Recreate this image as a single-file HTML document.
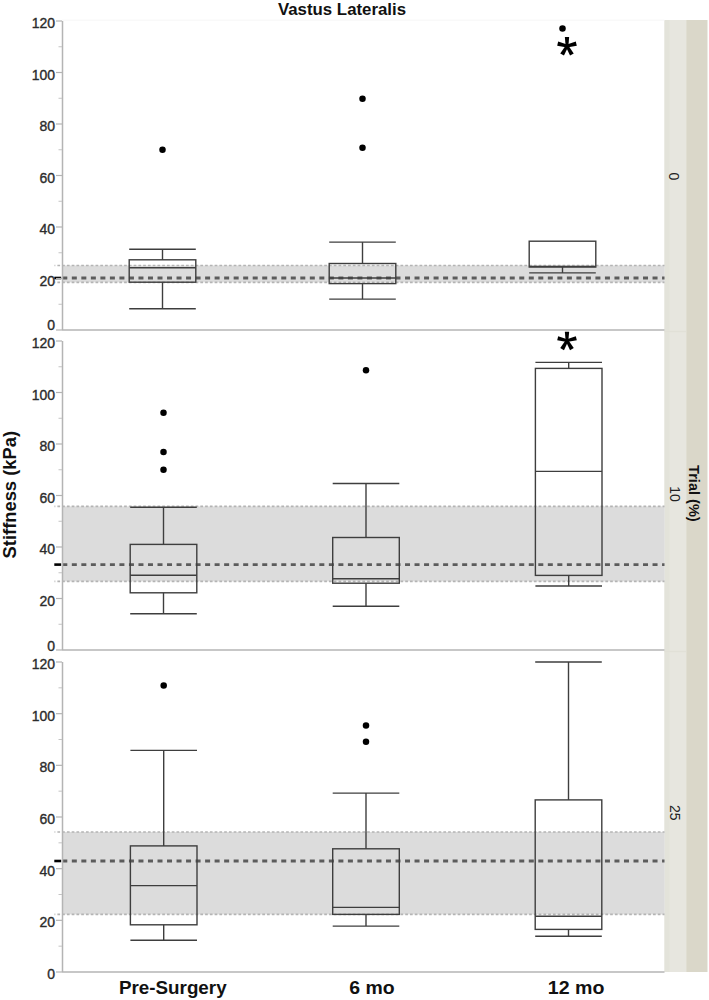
<!DOCTYPE html>
<html><head><meta charset="utf-8"><style>
html,body{margin:0;padding:0;background:#fff;}
body{width:709px;height:1000px;overflow:hidden;position:relative;}
svg{position:absolute;left:0;top:0;}
text{font-family:'Liberation Sans', sans-serif;}
</style></head><body>
<svg width="709" height="1000" viewBox="0 0 709 1000">
<rect x="0" y="0" width="709" height="1000" fill="#fff"/>

<rect x="664.5" y="20" width="21.7" height="952" fill="#e7e6df"/><rect x="664.5" y="20" width="5" height="952" fill="#e3e3da"/>
<rect x="686.2" y="20" width="21.3" height="952" fill="#dad7c9"/>
<line x1="62" y1="20.2" x2="664.5" y2="20.2" stroke="#f6f6f6" stroke-width="1"/>
<rect x="62" y="265.5" width="602.5" height="16.899999999999977" fill="#dcdcdc"/>
<line x1="54.5" y1="265.5" x2="664.5" y2="265.5" stroke="#b4b4b4" stroke-width="1.6" stroke-dasharray="2.7 2.065" stroke-dashoffset="1.88"/>
<line x1="54.5" y1="282.4" x2="664.5" y2="282.4" stroke="#b4b4b4" stroke-width="1.6" stroke-dasharray="2.7 2.065" stroke-dashoffset="1.88"/>
<line x1="62.3" y1="278.0" x2="664.5" y2="278.0" stroke="#5c5c5c" stroke-width="2.8" stroke-dasharray="5 4.52"/>
<line x1="54.3" y1="278.0" x2="61.2" y2="278.0" stroke="#000" stroke-width="2.6"/>
<line x1="62.5" y1="21" x2="62.5" y2="330" stroke="#b4b4b4" stroke-width="1.5"/>
<line x1="62" y1="330" x2="664.5" y2="330" stroke="#b4b4b4" stroke-width="1.5"/>
<line x1="56" y1="330.00" x2="62" y2="330.00" stroke="#b4b4b4" stroke-width="1.2"/>
<text x="0" y="0" font-size="14" text-anchor="end" fill="#2c2c2c" stroke="#2c2c2c" stroke-width="0.35" transform="translate(55.0 330.10) scale(1 1.09)">0</text>
<line x1="58.5" y1="304.25" x2="62" y2="304.25" stroke="#c4c4c4" stroke-width="1"/>
<line x1="56" y1="278.50" x2="62" y2="278.50" stroke="#b4b4b4" stroke-width="1.2"/>
<text x="0" y="0" font-size="14" text-anchor="end" fill="#2c2c2c" stroke="#2c2c2c" stroke-width="0.35" transform="translate(55.0 285.50) scale(1 1.09)">20</text>
<line x1="58.5" y1="252.75" x2="62" y2="252.75" stroke="#c4c4c4" stroke-width="1"/>
<line x1="56" y1="227.00" x2="62" y2="227.00" stroke="#b4b4b4" stroke-width="1.2"/>
<text x="0" y="0" font-size="14" text-anchor="end" fill="#2c2c2c" stroke="#2c2c2c" stroke-width="0.35" transform="translate(55.0 234.00) scale(1 1.09)">40</text>
<line x1="58.5" y1="201.25" x2="62" y2="201.25" stroke="#c4c4c4" stroke-width="1"/>
<line x1="56" y1="175.50" x2="62" y2="175.50" stroke="#b4b4b4" stroke-width="1.2"/>
<text x="0" y="0" font-size="14" text-anchor="end" fill="#2c2c2c" stroke="#2c2c2c" stroke-width="0.35" transform="translate(55.0 182.50) scale(1 1.09)">60</text>
<line x1="58.5" y1="149.75" x2="62" y2="149.75" stroke="#c4c4c4" stroke-width="1"/>
<line x1="56" y1="124.00" x2="62" y2="124.00" stroke="#b4b4b4" stroke-width="1.2"/>
<text x="0" y="0" font-size="14" text-anchor="end" fill="#2c2c2c" stroke="#2c2c2c" stroke-width="0.35" transform="translate(55.0 131.00) scale(1 1.09)">80</text>
<line x1="58.5" y1="98.25" x2="62" y2="98.25" stroke="#c4c4c4" stroke-width="1"/>
<line x1="56" y1="72.50" x2="62" y2="72.50" stroke="#b4b4b4" stroke-width="1.2"/>
<text x="0" y="0" font-size="14" text-anchor="end" fill="#2c2c2c" stroke="#2c2c2c" stroke-width="0.35" transform="translate(55.0 79.50) scale(1 1.09)">100</text>
<line x1="58.5" y1="46.75" x2="62" y2="46.75" stroke="#c4c4c4" stroke-width="1"/>
<line x1="56" y1="21.00" x2="62" y2="21.00" stroke="#b4b4b4" stroke-width="1.2"/>
<text x="0" y="0" font-size="14" text-anchor="end" fill="#2c2c2c" stroke="#2c2c2c" stroke-width="0.35" transform="translate(55.0 28.00) scale(1 1.09)">120</text>
<g stroke="#3e3e3e" stroke-width="1.4" fill="none"><rect x="129.20" y="259.8" width="66.60" height="22.40"/><line x1="129.20" y1="267.8" x2="195.80" y2="267.8"/><line x1="162.5" y1="249.3" x2="162.5" y2="259.8"/><line x1="129.20" y1="249.3" x2="195.80" y2="249.3"/><line x1="162.5" y1="282.2" x2="162.5" y2="308.7"/><line x1="129.20" y1="308.7" x2="195.80" y2="308.7"/></g>
<circle cx="162.5" cy="149.7" r="3.25" fill="#000"/>
<g stroke="#3e3e3e" stroke-width="1.4" fill="none"><rect x="329.20" y="263.5" width="66.60" height="20.10"/><line x1="329.20" y1="278.0" x2="395.80" y2="278.0"/><line x1="362.5" y1="242.1" x2="362.5" y2="263.5"/><line x1="329.20" y1="242.1" x2="395.80" y2="242.1"/><line x1="362.5" y1="283.6" x2="362.5" y2="299.1"/><line x1="329.20" y1="299.1" x2="395.80" y2="299.1"/></g>
<circle cx="362.5" cy="98.7" r="3.25" fill="#000"/>
<circle cx="362.5" cy="147.7" r="3.25" fill="#000"/>
<g stroke="#3e3e3e" stroke-width="1.4" fill="none"><rect x="529.20" y="241.2" width="66.60" height="25.80"/><line x1="529.20" y1="266.5" x2="595.80" y2="266.5"/><line x1="562.5" y1="267.0" x2="562.5" y2="272.9"/><line x1="529.20" y1="272.9" x2="595.80" y2="272.9"/></g>
<circle cx="562.5" cy="28.4" r="3.25" fill="#000"/>
<g fill="#000"><circle cx="567" cy="46" r="1.9"/><polygon points="568.35,46.50 569.15,37.10 564.85,37.10 565.65,46.50"/><polygon points="566.84,47.43 576.83,45.76 575.79,41.59 566.19,44.81"/><polygon points="567.81,44.81 558.21,41.59 557.17,45.76 567.16,47.43"/><polygon points="565.58,46.24 570.04,55.56 573.76,53.41 567.92,44.89"/><polygon points="566.08,44.89 560.24,53.41 563.96,55.56 568.42,46.24"/></g>
<text x="0" y="0" font-size="14" text-anchor="middle" fill="#222" transform="translate(668.6 176.5) rotate(90)">0</text>
<line x1="664.5" y1="331.5" x2="686.2" y2="331.5" stroke="#e1e0d7" stroke-width="1.5"/>
<rect x="62" y="506.4" width="602.5" height="75.0" fill="#dcdcdc"/>
<line x1="54.5" y1="506.4" x2="664.5" y2="506.4" stroke="#b4b4b4" stroke-width="1.6" stroke-dasharray="2.7 2.065" stroke-dashoffset="1.88"/>
<line x1="54.5" y1="581.4" x2="664.5" y2="581.4" stroke="#b4b4b4" stroke-width="1.6" stroke-dasharray="2.7 2.065" stroke-dashoffset="1.88"/>
<line x1="62.3" y1="564.6" x2="664.5" y2="564.6" stroke="#5c5c5c" stroke-width="2.8" stroke-dasharray="5 4.52"/>
<line x1="54.3" y1="564.6" x2="61.2" y2="564.6" stroke="#000" stroke-width="2.6"/>
<line x1="62.5" y1="341" x2="62.5" y2="650" stroke="#b4b4b4" stroke-width="1.5"/>
<line x1="62" y1="650" x2="664.5" y2="650" stroke="#b4b4b4" stroke-width="1.5"/>
<line x1="56" y1="650.00" x2="62" y2="650.00" stroke="#b4b4b4" stroke-width="1.2"/>
<text x="0" y="0" font-size="14" text-anchor="end" fill="#2c2c2c" stroke="#2c2c2c" stroke-width="0.35" transform="translate(55.0 651.40) scale(1 1.09)">0</text>
<line x1="58.5" y1="624.25" x2="62" y2="624.25" stroke="#c4c4c4" stroke-width="1"/>
<line x1="56" y1="598.50" x2="62" y2="598.50" stroke="#b4b4b4" stroke-width="1.2"/>
<text x="0" y="0" font-size="14" text-anchor="end" fill="#2c2c2c" stroke="#2c2c2c" stroke-width="0.35" transform="translate(55.0 605.50) scale(1 1.09)">20</text>
<line x1="58.5" y1="572.75" x2="62" y2="572.75" stroke="#c4c4c4" stroke-width="1"/>
<line x1="56" y1="547.00" x2="62" y2="547.00" stroke="#b4b4b4" stroke-width="1.2"/>
<text x="0" y="0" font-size="14" text-anchor="end" fill="#2c2c2c" stroke="#2c2c2c" stroke-width="0.35" transform="translate(55.0 554.00) scale(1 1.09)">40</text>
<line x1="58.5" y1="521.25" x2="62" y2="521.25" stroke="#c4c4c4" stroke-width="1"/>
<line x1="56" y1="495.50" x2="62" y2="495.50" stroke="#b4b4b4" stroke-width="1.2"/>
<text x="0" y="0" font-size="14" text-anchor="end" fill="#2c2c2c" stroke="#2c2c2c" stroke-width="0.35" transform="translate(55.0 502.50) scale(1 1.09)">60</text>
<line x1="58.5" y1="469.75" x2="62" y2="469.75" stroke="#c4c4c4" stroke-width="1"/>
<line x1="56" y1="444.00" x2="62" y2="444.00" stroke="#b4b4b4" stroke-width="1.2"/>
<text x="0" y="0" font-size="14" text-anchor="end" fill="#2c2c2c" stroke="#2c2c2c" stroke-width="0.35" transform="translate(55.0 451.00) scale(1 1.09)">80</text>
<line x1="58.5" y1="418.25" x2="62" y2="418.25" stroke="#c4c4c4" stroke-width="1"/>
<line x1="56" y1="392.50" x2="62" y2="392.50" stroke="#b4b4b4" stroke-width="1.2"/>
<text x="0" y="0" font-size="14" text-anchor="end" fill="#2c2c2c" stroke="#2c2c2c" stroke-width="0.35" transform="translate(55.0 399.50) scale(1 1.09)">100</text>
<line x1="58.5" y1="366.75" x2="62" y2="366.75" stroke="#c4c4c4" stroke-width="1"/>
<line x1="56" y1="341.00" x2="62" y2="341.00" stroke="#b4b4b4" stroke-width="1.2"/>
<text x="0" y="0" font-size="14" text-anchor="end" fill="#2c2c2c" stroke="#2c2c2c" stroke-width="0.35" transform="translate(55.0 348.00) scale(1 1.09)">120</text>
<g stroke="#3e3e3e" stroke-width="1.4" fill="none"><rect x="130.20" y="544.4" width="66.60" height="48.40"/><line x1="130.20" y1="575.3" x2="196.80" y2="575.3"/><line x1="163.5" y1="507.3" x2="163.5" y2="544.4"/><line x1="130.20" y1="507.3" x2="196.80" y2="507.3"/><line x1="163.5" y1="592.8" x2="163.5" y2="613.8"/><line x1="130.20" y1="613.8" x2="196.80" y2="613.8"/></g>
<circle cx="163.5" cy="412.8" r="3.25" fill="#000"/>
<circle cx="163.5" cy="452.0" r="3.25" fill="#000"/>
<circle cx="163.5" cy="469.7" r="3.25" fill="#000"/>
<g stroke="#3e3e3e" stroke-width="1.4" fill="none"><rect x="332.70" y="537.5" width="66.60" height="45.70"/><line x1="332.70" y1="578.7" x2="399.30" y2="578.7"/><line x1="366.0" y1="483.5" x2="366.0" y2="537.5"/><line x1="332.70" y1="483.5" x2="399.30" y2="483.5"/><line x1="366.0" y1="583.2" x2="366.0" y2="606.2"/><line x1="332.70" y1="606.2" x2="399.30" y2="606.2"/></g>
<circle cx="366.0" cy="370.2" r="3.25" fill="#000"/>
<g stroke="#3e3e3e" stroke-width="1.4" fill="none"><rect x="535.40" y="368.4" width="66.60" height="207.00"/><line x1="535.40" y1="471.4" x2="602.00" y2="471.4"/><line x1="568.7" y1="362.4" x2="568.7" y2="368.4"/><line x1="535.40" y1="362.4" x2="602.00" y2="362.4"/><line x1="568.7" y1="575.4" x2="568.7" y2="586.0"/><line x1="535.40" y1="586.0" x2="602.00" y2="586.0"/></g>
<g fill="#000"><circle cx="567" cy="340.6" r="1.9"/><polygon points="568.35,341.10 569.15,331.70 564.85,331.70 565.65,341.10"/><polygon points="566.84,342.03 576.83,340.36 575.79,336.19 566.19,339.41"/><polygon points="567.81,339.41 558.21,336.19 557.17,340.36 567.16,342.03"/><polygon points="565.58,340.84 570.04,350.16 573.76,348.01 567.92,339.49"/><polygon points="566.08,339.49 560.24,348.01 563.96,350.16 568.42,340.84"/></g>
<text x="0" y="0" font-size="14" text-anchor="middle" fill="#222" transform="translate(669.6 494) rotate(90)">10</text>
<line x1="664.5" y1="651.5" x2="686.2" y2="651.5" stroke="#e1e0d7" stroke-width="1.5"/>
<rect x="62" y="832.0" width="602.5" height="82.39999999999998" fill="#dcdcdc"/>
<line x1="54.5" y1="832.0" x2="664.5" y2="832.0" stroke="#b4b4b4" stroke-width="1.6" stroke-dasharray="2.7 2.065" stroke-dashoffset="1.88"/>
<line x1="54.5" y1="914.4" x2="664.5" y2="914.4" stroke="#b4b4b4" stroke-width="1.6" stroke-dasharray="2.7 2.065" stroke-dashoffset="1.88"/>
<line x1="62.3" y1="861.0" x2="664.5" y2="861.0" stroke="#5c5c5c" stroke-width="2.8" stroke-dasharray="5 4.52"/>
<line x1="54.3" y1="861.0" x2="61.2" y2="861.0" stroke="#000" stroke-width="2.6"/>
<line x1="62.5" y1="662" x2="62.5" y2="972" stroke="#b4b4b4" stroke-width="1.5"/>
<line x1="62" y1="972" x2="664.5" y2="972" stroke="#b4b4b4" stroke-width="1.5"/>
<line x1="56" y1="972.00" x2="62" y2="972.00" stroke="#b4b4b4" stroke-width="1.2"/>
<text x="0" y="0" font-size="14" text-anchor="end" fill="#2c2c2c" stroke="#2c2c2c" stroke-width="0.35" transform="translate(55.0 979.00) scale(1 1.09)">0</text>
<line x1="58.5" y1="946.17" x2="62" y2="946.17" stroke="#c4c4c4" stroke-width="1"/>
<line x1="56" y1="920.33" x2="62" y2="920.33" stroke="#b4b4b4" stroke-width="1.2"/>
<text x="0" y="0" font-size="14" text-anchor="end" fill="#2c2c2c" stroke="#2c2c2c" stroke-width="0.35" transform="translate(55.0 927.33) scale(1 1.09)">20</text>
<line x1="58.5" y1="894.50" x2="62" y2="894.50" stroke="#c4c4c4" stroke-width="1"/>
<line x1="56" y1="868.67" x2="62" y2="868.67" stroke="#b4b4b4" stroke-width="1.2"/>
<text x="0" y="0" font-size="14" text-anchor="end" fill="#2c2c2c" stroke="#2c2c2c" stroke-width="0.35" transform="translate(55.0 875.67) scale(1 1.09)">40</text>
<line x1="58.5" y1="842.83" x2="62" y2="842.83" stroke="#c4c4c4" stroke-width="1"/>
<line x1="56" y1="817.00" x2="62" y2="817.00" stroke="#b4b4b4" stroke-width="1.2"/>
<text x="0" y="0" font-size="14" text-anchor="end" fill="#2c2c2c" stroke="#2c2c2c" stroke-width="0.35" transform="translate(55.0 824.00) scale(1 1.09)">60</text>
<line x1="58.5" y1="791.17" x2="62" y2="791.17" stroke="#c4c4c4" stroke-width="1"/>
<line x1="56" y1="765.33" x2="62" y2="765.33" stroke="#b4b4b4" stroke-width="1.2"/>
<text x="0" y="0" font-size="14" text-anchor="end" fill="#2c2c2c" stroke="#2c2c2c" stroke-width="0.35" transform="translate(55.0 772.33) scale(1 1.09)">80</text>
<line x1="58.5" y1="739.50" x2="62" y2="739.50" stroke="#c4c4c4" stroke-width="1"/>
<line x1="56" y1="713.67" x2="62" y2="713.67" stroke="#b4b4b4" stroke-width="1.2"/>
<text x="0" y="0" font-size="14" text-anchor="end" fill="#2c2c2c" stroke="#2c2c2c" stroke-width="0.35" transform="translate(55.0 720.67) scale(1 1.09)">100</text>
<line x1="58.5" y1="687.83" x2="62" y2="687.83" stroke="#c4c4c4" stroke-width="1"/>
<line x1="56" y1="662.00" x2="62" y2="662.00" stroke="#b4b4b4" stroke-width="1.2"/>
<text x="0" y="0" font-size="14" text-anchor="end" fill="#2c2c2c" stroke="#2c2c2c" stroke-width="0.35" transform="translate(55.0 669.00) scale(1 1.09)">120</text>
<g stroke="#3e3e3e" stroke-width="1.4" fill="none"><rect x="130.40" y="845.9" width="66.60" height="78.90"/><line x1="130.40" y1="885.6" x2="197.00" y2="885.6"/><line x1="163.7" y1="750.4" x2="163.7" y2="845.9"/><line x1="130.40" y1="750.4" x2="197.00" y2="750.4"/><line x1="163.7" y1="924.8" x2="163.7" y2="940.2"/><line x1="130.40" y1="940.2" x2="197.00" y2="940.2"/></g>
<circle cx="163.7" cy="685.4" r="3.25" fill="#000"/>
<g stroke="#3e3e3e" stroke-width="1.4" fill="none"><rect x="332.70" y="848.8" width="66.60" height="65.60"/><line x1="332.70" y1="907.4" x2="399.30" y2="907.4"/><line x1="366.0" y1="793.1" x2="366.0" y2="848.8"/><line x1="332.70" y1="793.1" x2="399.30" y2="793.1"/><line x1="366.0" y1="914.4" x2="366.0" y2="926.1"/><line x1="332.70" y1="926.1" x2="399.30" y2="926.1"/></g>
<circle cx="366.0" cy="725.6" r="3.25" fill="#000"/>
<circle cx="366.0" cy="741.7" r="3.25" fill="#000"/>
<g stroke="#3e3e3e" stroke-width="1.4" fill="none"><rect x="535.20" y="799.9" width="66.60" height="129.50"/><line x1="535.20" y1="916.2" x2="601.80" y2="916.2"/><line x1="568.5" y1="662.0" x2="568.5" y2="799.9"/><line x1="535.20" y1="662.0" x2="601.80" y2="662.0"/><line x1="568.5" y1="929.4" x2="568.5" y2="936.3"/><line x1="535.20" y1="936.3" x2="601.80" y2="936.3"/></g>
<text x="0" y="0" font-size="14" text-anchor="middle" fill="#222" transform="translate(669.6 812.7) rotate(90)">25</text>
<text x="0" y="0" font-size="16.5" font-weight="bold" text-anchor="middle" fill="#111" transform="translate(342 14.5) scale(1.02 1)">Vastus Lateralis</text>
<text x="0" y="0" font-size="18" font-weight="bold" text-anchor="middle" fill="#111" transform="translate(16.2 494.7) rotate(-90) scale(1.02 1)">Stiffness (kPa)</text>
<text x="0" y="0" font-size="14" font-weight="bold" text-anchor="middle" fill="#111" transform="translate(689 493.4) rotate(90) scale(1.04 1)">Trial (%)</text>
<text x="0" y="0" font-size="18" font-weight="bold" text-anchor="middle" fill="#111" transform="translate(172.8 993.5) scale(1.045 1)">Pre-Surgery</text>
<text x="0" y="0" font-size="18" font-weight="bold" text-anchor="middle" fill="#111" transform="translate(372 993.5) scale(1.08 1)">6 mo</text>
<text x="0" y="0" font-size="18" font-weight="bold" text-anchor="middle" fill="#111" transform="translate(576.2 993.5) scale(1.09 1)">12 mo</text>
</svg></body></html>
